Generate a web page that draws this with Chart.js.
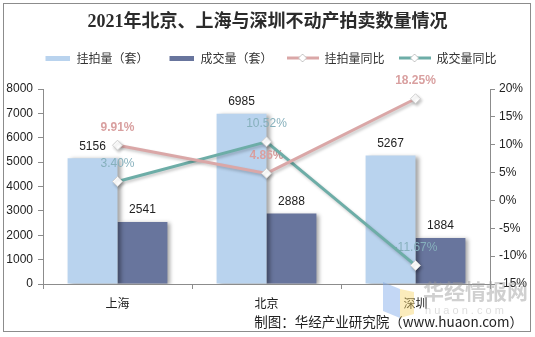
<!DOCTYPE html>
<html>
<head>
<meta charset="utf-8">
<script src="https://cdn.jsdelivr.net/npm/chart.js@4.4.1/dist/chart.umd.min.js"></script>
<style>
html,body{margin:0;padding:0;background:#fff;}
#wrap{width:535px;height:337px;position:relative;}
</style>
</head>
<body>
<div id="wrap"><canvas id="c" width="535" height="337"></canvas></div>
<script>
// ---- data ----
const categories = ['上海', '北京', '深圳'];
const listedCount = [5156, 6985, 5267];      // 挂拍量（套）
const dealCount = [2541, 2888, 1884];        // 成交量（套）
const listedYoY = [9.91, 4.86, 18.25];       // 挂拍量同比 (%)
const dealYoY = [3.40, 10.52, -11.67];       // 成交量同比 (%)
const leftTicks = [0, 1000, 2000, 3000, 4000, 5000, 6000, 7000, 8000];
const rightTicks = [-15, -10, -5, 0, 5, 10, 15, 20];
const seriesNames = ['挂拍量（套）', '成交量（套）', '挂拍量同比', '成交量同比'];
const titleText = '2021年北京、上海与深圳不动产拍卖数量情况';
const creditText = '制图：华经产业研究院（www.huaon.com）';

// ---- styles ----
const C_LIGHT = '#B9D3EE';
const C_DARK = '#68759D';
const C_PINK = '#DAA7A7';
const C_TEAL = '#6DADA7';
const C_PINK_TXT = '#D9A0A0';
const C_TEAL_TXT = '#86B0BC';
const SANS = "'Liberation Sans','Noto Sans CJK SC',sans-serif";
const CJK = "'Noto Sans CJK SC','Liberation Sans',sans-serif";

function makeSwatch(kind, color) {
  const c = document.createElement('canvas');
  c.width = 32; c.height = 12;
  const g = c.getContext('2d');
  if (kind === 'bar') {
    g.fillStyle = color;
    g.fillRect(7, 4, 25, 5);
  } else {
    g.strokeStyle = color; g.lineWidth = 3;
    g.beginPath(); g.moveTo(0, 6); g.lineTo(32, 6); g.stroke();
    g.beginPath();
    g.moveTo(16, 2); g.lineTo(20, 6); g.lineTo(16, 10); g.lineTo(12, 6); g.closePath();
    g.fillStyle = '#fff'; g.fill();
    g.strokeStyle = '#c8c8c8'; g.lineWidth = 1; g.stroke();
  }
  return c;
}

const swatches = [
  makeSwatch('bar', C_LIGHT), makeSwatch('bar', C_DARK),
  makeSwatch('line', C_PINK), makeSwatch('line', C_TEAL)
];

const fxPlugin = {
  id: 'fx',
  beforeDraw(chart) {
    const ctx = chart.ctx;
    ctx.save();
    ctx.fillStyle = '#fff';
    ctx.fillRect(0, 0, chart.width, chart.height);
    ctx.restore();
  },
  beforeDatasetDraw(chart, args) {
    const ctx = chart.ctx;
    ctx.save();
    if (args.meta.type === 'bar') {
      ctx.shadowColor = 'rgba(0,0,0,0.35)';
      ctx.shadowBlur = 4; ctx.shadowOffsetX = 3; ctx.shadowOffsetY = 1;
    } else {
      ctx.shadowColor = 'rgba(0,0,0,0.22)';
      ctx.shadowBlur = 3; ctx.shadowOffsetX = 1.5; ctx.shadowOffsetY = 2;
    }
  },
  afterDatasetDraw(chart, args) {
    const ctx = chart.ctx;
    ctx.restore();
    if (args.index !== 0) return; // last bar dataset drawn -> labels before lines
    ctx.save();
    ctx.textAlign = 'center';
    ctx.textBaseline = 'middle';
    ctx.font = '12px ' + SANS;
    ctx.fillStyle = '#222';
    [0, 1].forEach(di => {
      const meta = chart.getDatasetMeta(di);
      meta.data.forEach((el, i) => {
        ctx.fillText(String(chart.data.datasets[di].data[i]), el.x, el.y - 12);
      });
    });
    [[2, C_PINK_TXT, 'bold '], [3, C_TEAL_TXT, '']].forEach(([di, col, w]) => {
      const meta = chart.getDatasetMeta(di);
      ctx.fillStyle = col;
      ctx.font = w + '12px ' + SANS;
      meta.data.forEach((el, i) => {
        ctx.fillText(chart.data.datasets[di].data[i].toFixed(2) + '%', el.x, el.y - 18);
      });
    });
    ctx.restore();
  },
  afterDraw(chart) {
    const ctx = chart.ctx;
    ctx.save();
    // credit line
    ctx.fillStyle = '#222';
    ctx.font = '13.5px ' + CJK;
    ctx.textAlign = 'right'; ctx.textBaseline = 'middle';
    ctx.fillText(creditText, 523, 322);
    // watermark logo + text
    ctx.globalAlpha = 0.45;
    ctx.fillStyle = '#7aa6e8';
    ctx.beginPath(); ctx.moveTo(383, 282); ctx.lineTo(400, 289); ctx.lineTo(400, 318); ctx.lineTo(383, 311); ctx.closePath(); ctx.fill();
    ctx.fillStyle = '#f6d56a';
    ctx.beginPath(); ctx.moveTo(400, 289); ctx.lineTo(414, 292); ctx.lineTo(414, 314); ctx.lineTo(400, 318); ctx.closePath(); ctx.fill();
    ctx.globalAlpha = 1;
    ctx.fillStyle = 'rgba(150,150,150,0.45)';
    ctx.font = 'bold 21px ' + CJK;
    ctx.textAlign = 'left'; ctx.textBaseline = 'middle';
    ctx.fillText('华经情报网', 423, 291);
    ctx.fillStyle = 'rgba(170,170,170,0.4)';
    ctx.font = '11px ' + SANS;
    ctx.fillText('h u a o n . c o m', 425, 311);
    // frame
    ctx.strokeStyle = '#8c8c8c';
    ctx.lineWidth = 1;
    ctx.strokeRect(3.5, 3.5, 527, 328);
    ctx.restore();
  }
};

new Chart(document.getElementById('c'), {
  type: 'bar',
  data: {
    labels: categories,
    datasets: [
      { type: 'bar', label: seriesNames[0], data: listedCount, backgroundColor: C_LIGHT, xAxisID: 'x', yAxisID: 'y', order: 1, categoryPercentage: 0.67, barPercentage: 1.0 },
      { type: 'bar', label: seriesNames[1], data: dealCount, backgroundColor: C_DARK, xAxisID: 'x', yAxisID: 'y', order: 1, categoryPercentage: 0.67, barPercentage: 1.0 },
      { type: 'line', label: seriesNames[2], data: listedYoY, borderColor: C_PINK, borderWidth: 3, xAxisID: 'x', yAxisID: 'y1', order: 0,
        pointStyle: 'rectRot', pointRadius: 5, pointBackgroundColor: '#fff', pointBorderColor: '#cfcfcf', pointBorderWidth: 1, tension: 0 },
      { type: 'line', label: seriesNames[3], data: dealYoY, borderColor: C_TEAL, borderWidth: 3, xAxisID: 'x', yAxisID: 'y1', order: 0,
        pointStyle: 'rectRot', pointRadius: 5, pointBackgroundColor: '#fff', pointBorderColor: '#cfcfcf', pointBorderWidth: 1, tension: 0 }
    ]
  },
  options: {
    responsive: false,
    animation: false,
    events: [],
    layout: { padding: { left: 0, right: 0, top: 0, bottom: 27 } },
    plugins: {
      title: {
        display: true, text: titleText, color: '#2b2b2b',
        font: { family: "'Liberation Serif','Noto Sans CJK SC',serif", size: 18, weight: 'bold', lineHeight: 1.2 },
        padding: { top: 11.2, bottom: 5.2 }
      },
      legend: {
        display: true, position: 'top',
        labels: {
          usePointStyle: true, pointStyleWidth: 32, boxHeight: 12, padding: 14,
          color: '#333', font: { family: CJK, size: 12 },
          generateLabels: () => seriesNames.map((t, i) => ({
            text: t, pointStyle: swatches[i], fillStyle: 'transparent', strokeStyle: 'transparent',
            lineWidth: 0, hidden: false, datasetIndex: i, fontColor: '#333'
          }))
        }
      },
      tooltip: { enabled: false }
    },
    scales: {
      x: {
        type: 'category', position: 'bottom', offset: true,
        grid: { display: true, drawOnChartArea: false, drawTicks: true, tickLength: 5, color: '#8c8c8c', offset: true },
        border: { display: true, color: '#8c8c8c' },
        ticks: { color: '#222', padding: 7, font: { family: CJK, size: 12 } },
        afterFit(s) { s.height = 26; }
      },
      xTop: {
        type: 'category', position: 'top', display: true,
        grid: { display: false }, border: { display: false }, ticks: { display: false },
        afterFit(s) { s.height = 15; }
      },
      y: {
        position: 'left', min: 0, max: 8000,
        afterBuildTicks(s) { s.ticks = leftTicks.map(v => ({ value: v })); },
        grid: { display: true, drawOnChartArea: false, drawTicks: true, tickLength: 5, color: '#8c8c8c' },
        border: { display: true, color: '#8c8c8c' },
        ticks: { color: '#222', padding: 5, font: { family: SANS, size: 12 }, callback: v => String(v) },
        afterFit(s) { s.width = 43; }
      },
      y1: {
        position: 'right', min: -15, max: 20,
        afterBuildTicks(s) { s.ticks = rightTicks.map(v => ({ value: v })); },
        grid: { display: true, drawOnChartArea: false, drawTicks: true, tickLength: 5, color: '#8c8c8c' },
        border: { display: true, color: '#8c8c8c' },
        ticks: { color: '#222', padding: 4, font: { family: SANS, size: 12 }, callback: v => v + '%' },
        afterFit(s) { s.width = 45; }
      }
    }
  },
  plugins: [fxPlugin]
});
</script>
</body>
</html>
